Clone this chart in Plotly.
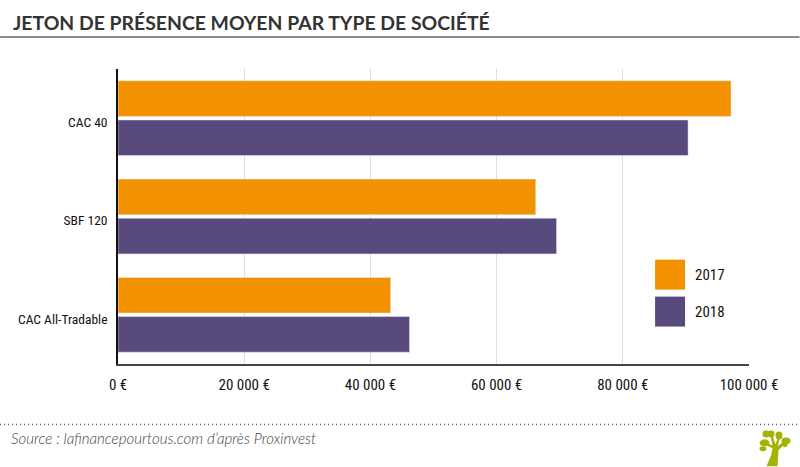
import plotly.graph_objects as go

W, H = 800, 467
L, R, T, B = 118, 50.5, 69, 102.5

categories = ["CAC 40", "SBF 120", "CAC All-Tradable"]
values_2017 = [97150, 66200, 43200]
values_2018 = [90350, 69500, 46200]
tick_vals = [0, 20000, 40000, 60000, 80000, 100000]
tick_text = ["0 €", "20 000 €", "40 000 €", "60 000 €", "80 000 €", "100 000 €"]

ORANGE = "#F39200"
PURPLE = "#584A7C"
NARROW = "Roboto Condensed, Open Sans Condensed, Roboto"


# pixel position -> paper coords, so the furniture can sit outside the plot area
def px(x):
    return (x - L) / (W - L - R)


def py(y):
    return 1 - (y - T) / (H - T - B)


fig = go.Figure()
fig.add_trace(go.Bar(y=categories, x=values_2017, name="2017", orientation="h", marker_color=ORANGE))
fig.add_trace(go.Bar(y=categories, x=values_2018, name="2018", orientation="h", marker_color=PURPLE))

shapes = [
    # header rule and dotted footer rule
    dict(type="line", xref="paper", yref="paper", x0=px(0), x1=px(800), y0=py(37), y1=py(37),
         line=dict(color="#666666", width=1.5)),
    dict(type="line", xref="paper", yref="paper", x0=px(0), x1=px(800), y0=py(425), y1=py(425),
         line=dict(color="#555555", width=1.5, dash="1px 3px")),
    # legend swatches
    dict(type="rect", xref="paper", yref="paper", x0=px(655.5), x1=px(685.5), y0=py(260), y1=py(290),
         fillcolor=ORANGE, line_width=0),
    dict(type="rect", xref="paper", yref="paper", x0=px(655.5), x1=px(685.5), y0=py(297), y1=py(327),
         fillcolor=PURPLE, line_width=0),
]

# little tree logo, bottom right
TREE = "#A2B400"
shapes.append(dict(type="path", xref="paper", yref="paper", fillcolor=TREE, line_width=0,
                   path=f"M {px(767)} {py(467)} L {px(772)} {py(455)} L {px(773)} {py(449)} L {px(763)} {py(444)} "
                        f"L {px(764)} {py(443)} L {px(773)} {py(446)} L {px(771)} {py(436)} L {px(773)} {py(436)} "
                        f"L {px(776)} {py(445)} L {px(779)} {py(437)} L {px(781)} {py(437)} L {px(778)} {py(447)} "
                        f"L {px(786)} {py(441)} L {px(787)} {py(443)} L {px(779)} {py(451)} L {px(778)} {py(467)} Z"))
for x0, y0, x1, y1 in [(760, 440, 770, 447), (763, 431, 770, 438), (768, 431, 775, 438),
                       (776, 432, 783, 440), (782, 438, 791, 445), (783, 443, 788, 448),
                       (760, 447, 767, 452)]:
    shapes.append(dict(type="circle", xref="paper", yref="paper", x0=px(x0), x1=px(x1), y0=py(y0), y1=py(y1),
                       fillcolor=TREE, line_width=0))

annotations = [
    dict(text="JETON DE PRÉSENCE MOYEN PAR TYPE DE SOCIÉTÉ", x=px(11), y=py(22.5), xref="paper", yref="paper",
         xanchor="left", yanchor="middle", showarrow=False,
         font=dict(family="Lato", size=19.4, color="#333333", weight="bold")),
    dict(text="<i>Source : lafinancepourtous.com d’après Proxinvest</i>", x=px(9), y=py(438.5), xref="paper",
         yref="paper", xanchor="left", yanchor="middle", showarrow=False,
         font=dict(family="Lato", size=15.1, color="#444444", weight=300)),
    dict(text="2017", x=px(693), y=py(275), xref="paper", yref="paper", xanchor="left", yanchor="middle",
         showarrow=False, font=dict(family=NARROW, size=15, color="#111111")),
    dict(text="2018", x=px(693), y=py(312), xref="paper", yref="paper", xanchor="left", yanchor="middle",
         showarrow=False, font=dict(family=NARROW, size=15, color="#111111")),
]

fig.update_layout(
    width=W, height=H,
    margin=dict(l=L, r=R, t=T, b=B, autoexpand=False),
    paper_bgcolor="white", plot_bgcolor="white",
    barmode="group", bargap=0.204, bargroupgap=0.09,
    showlegend=False,
    shapes=shapes, annotations=annotations,
    font=dict(family=NARROW, size=15, color="#111111"),
)
fig.update_xaxes(range=[0, 100000], tickvals=tick_vals, ticktext=tick_text, showgrid=True,
                 gridcolor="#DDDDDD", gridwidth=1, zeroline=False, showline=True, linecolor="#444444",
                 linewidth=1.5, ticks="", ticklabelstandoff=6, tickfont=dict(family=NARROW, size=15, color="#111111"))
fig.update_yaxes(autorange="reversed", showgrid=False, zeroline=False, showline=True, linecolor="#111111",
                 linewidth=1.5, ticks="", ticklabelstandoff=6, ticklabelshift=-4,
                 tickfont=dict(family=NARROW, size=13.5, color="#111111"))

# the browser's default body margin would push everything 8px down and right
fig.write_html("out.html", post_script="document.body.style.margin='0';", config={"displayModeBar": False})
